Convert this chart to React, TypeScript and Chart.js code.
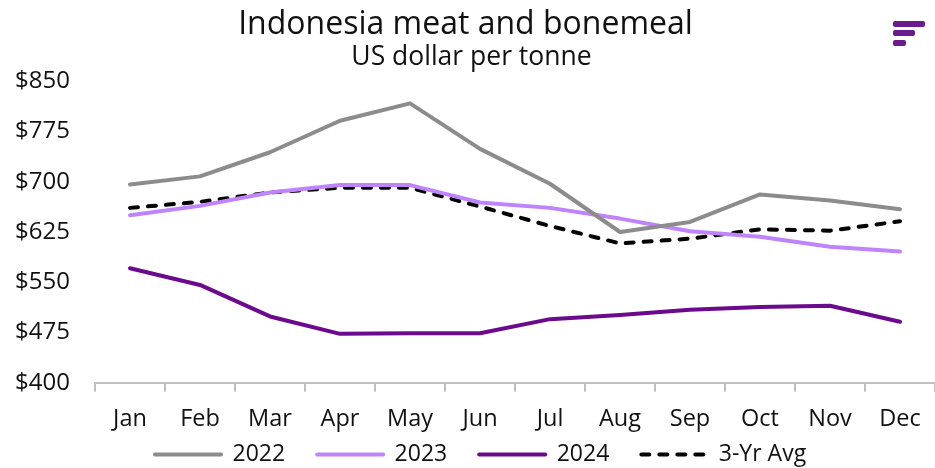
import React, { useEffect, useRef } from "react";
import { Chart, registerables } from "chart.js";

Chart.register(...registerables);

const TITLE = "Indonesia meat and bonemeal";
const SUBTITLE = "US dollar per tonne";
const months = ["Jan", "Feb", "Mar", "Apr", "May", "Jun", "Jul", "Aug", "Sep", "Oct", "Nov", "Dec"];
const y2022 = [696, 708, 744, 791, 817, 749, 697, 625, 640, 681, 672, 659];
const y2023 = [650, 664, 684, 695, 695, 669, 661, 645, 626, 618, 603, 596];
const y2024 = [571, 546, 499, 473, 474, 474, 495, 501, 509, 513, 515, 491];
const avg3 = [661, 670, 684, 691, 691, 663, 634, 608, 615, 629, 627, 641];
const Y_MIN = 400;
const Y_MAX = 850;
const Y_STEP = 75;

const FONT = "'Open Sans', 'Noto Sans', sans-serif";

const layoutTweak = {
  id: "layoutTweak",
  afterLayout(chart: any) {
    const l = chart.legend;
    if (l && l.lineWidths) {
      const p = l.options.labels.padding;
      const cur = (l.left + p + l.right - l.lineWidths[0]) / 2;
      const dx = 155 - cur;
      l.left += dx;
      l.right += dx;
      l.top = 411;
      l.bottom = 468;
      l.height = l.bottom - l.top;
    }
    for (const b of chart.boxes) {
      if (b && b.options && b.options.text === SUBTITLE) {
        b.left += 4;
        b.right += 4;
      }
      if (b && b.options && b.options.text === TITLE) {
        b.left -= 2;
        b.right -= 2;
      }
    }
  },
};

const logo = {
  id: "logo",
  afterDraw(chart: any) {
    const ctx = chart.ctx;
    ctx.save();
    ctx.fillStyle = "#6a1b8c";
    const bars = [
      [893, 21, 32, 6],
      [893, 30, 22, 6],
      [893, 40, 13, 6],
    ];
    for (const [x, y, w, h] of bars) {
      ctx.beginPath();
      (ctx as any).roundRect(x, y, w, h, 2);
      ctx.fill();
    }
    ctx.restore();
  },
};

export default function App() {
  const ref = useRef<HTMLCanvasElement | null>(null);
  useEffect(() => {
    document.body.style.margin = "0";
    const canvas = ref.current;
    if (!canvas) return;
    const mk = (label: string, data: number[], color: string, dash: number[] = []) => ({
      label,
      data,
      borderColor: color,
      backgroundColor: color,
      borderWidth: 4,
      borderDash: dash,
      borderCapStyle: "round" as const,
      borderJoinStyle: "round" as const,
      pointRadius: 0,
      pointHoverRadius: 0,
      tension: 0,
      fill: false,
    });
    const chart = new Chart(canvas, {
      type: "line",
      data: {
        labels: months,
        datasets: [
          mk("2022", y2022, "#8c8c8c"),
          mk("2023", y2023, "#bf84fb"),
          mk("2024", y2024, "#6b0a8c"),
          mk("3-Yr Avg", avg3, "#000000", [8, 10]),
        ],
      },
      options: {
        animation: false,
        responsive: false,
        maintainAspectRatio: false,
        layout: { padding: { left: 0, right: 0, top: 0, bottom: 0 } },
        plugins: {
          title: {
            display: true,
            text: TITLE,
            color: "#111",
            font: { family: FONT, size: 32, weight: "normal" },
            padding: { top: 6, bottom: 0 },
          },
          subtitle: {
            display: true,
            text: SUBTITLE,
            color: "#111",
            font: { family: FONT, size: 26.5, weight: "normal" },
            padding: { top: -3, bottom: 8 },
          },
          legend: {
            position: "bottom",
            maxHeight: 22,
            labels: {
              usePointStyle: true,
              pointStyle: "line",
              pointStyleWidth: 66,
              padding: 32,
              color: "#111",
              font: { family: FONT, size: 23 },
              generateLabels: (c: any) => {
                const items = Chart.defaults.plugins.legend.labels.generateLabels(c);
                return items.map((it: any) => {
                  const ds: any = c.data.datasets[it.datasetIndex];
                  return {
                    ...it,
                    lineDash: ds.borderDash || [],
                    lineWidth: ds.borderWidth,
                    lineCap: "round",
                    strokeStyle: ds.borderColor,
                    fillStyle: ds.borderColor,
                  };
                });
              },
            },
          },
          tooltip: { enabled: false },
        },
        scales: {
          x: {
            offset: true,
            grid: {
              offset: true,
              drawOnChartArea: false,
              drawTicks: true,
              tickLength: 9,
              color: "#bfbfbf",
              lineWidth: 2,
            },
            border: { display: true, color: "#bfbfbf", width: 2 },
            ticks: {
              color: "#111",
              padding: 13,
              maxRotation: 0,
              autoSkip: false,
              font: { family: FONT, size: 23.5 },
            },
          },
          y: {
            min: Y_MIN,
            max: Y_MAX,
            grid: { display: false, drawTicks: false },
            border: { display: false },
            afterFit: (s: any) => {
              s.width = 95;
            },
            ticks: {
              stepSize: Y_STEP,
              padding: 25,
              color: "#111",
              font: { family: FONT, size: 24 },
              callback: (v: any) => "$" + v,
            },
          },
        },
      },
      plugins: [layoutTweak, logo],
    });
    return () => chart.destroy();
  }, []);
  return (
    <div style={{ position: "absolute", left: 0, top: 0, width: 935, height: 468, background: "#fff" }}>
      <canvas ref={ref} width={935} height={468} style={{ width: 935, height: 468, display: "block" }} />
    </div>
  );
}
